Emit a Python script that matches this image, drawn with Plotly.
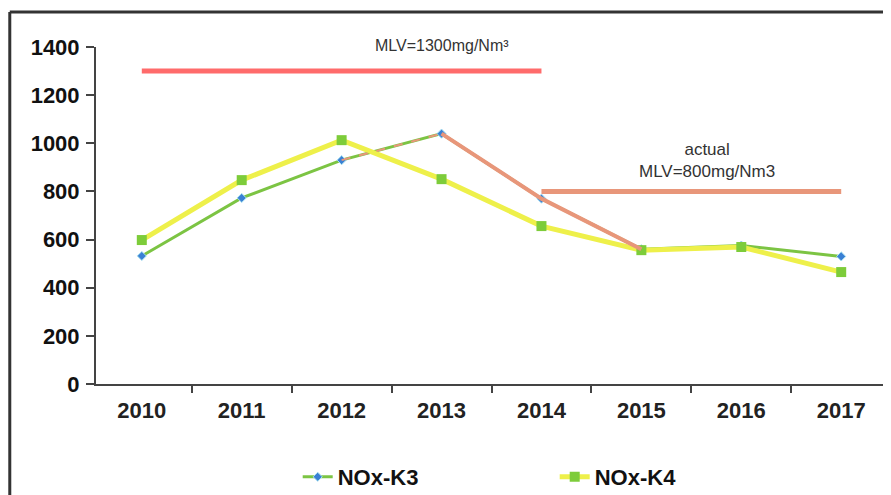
import plotly.graph_objects as go

years = ["2010", "2011", "2012", "2013", "2014", "2015", "2016", "2017"]
nox_k3 = [532, 773, 930, 1040, 770, 560, 575, 530]
nox_k4 = [598, 847, 1013, 851, 656, 556, 569, 465]
mlv_old_years = ["2010", "2014"]
mlv_old = [1300, 1300]
mlv_new_years = ["2014", "2017"]
mlv_new = [800, 800]
y_ticks = [0, 200, 400, 600, 800, 1000, 1200, 1400]

FONT = "Liberation Sans, Arial, sans-serif"

fig = go.Figure()

# MLV limit lines
fig.add_trace(go.Scatter(x=mlv_old_years, y=mlv_old, mode="lines",
                         line=dict(color="#ff6b6b", width=5),
                         showlegend=False, hoverinfo="skip"))
fig.add_trace(go.Scatter(x=mlv_new_years, y=mlv_new, mode="lines",
                         line=dict(color="#e8967a", width=5),
                         showlegend=False, hoverinfo="skip"))

# NOx-K3
fig.add_trace(go.Scatter(x=years, y=nox_k3, mode="lines+markers", name="NOx-K3",
                         line=dict(color="#7cc443", width=3),
                         marker=dict(symbol="diamond", size=7, color="#3a80d4",
                                     line=dict(color="#a8e0f0", width=1))))
# NOx-K4
fig.add_trace(go.Scatter(x=years, y=nox_k4, mode="lines+markers", name="NOx-K4",
                         line=dict(color="#eef04a", width=5),
                         marker=dict(symbol="square", size=10, color="#7dcc3a")))

# highlighted K3 segments (orange)
fig.add_trace(go.Scatter(x=years[2:4], y=nox_k3[2:4], mode="lines",
                         line=dict(color="#e8967a", width=2, dash="dash"),
                         showlegend=False, hoverinfo="skip"))
fig.add_trace(go.Scatter(x=years[3:6], y=nox_k3[3:6], mode="lines",
                         line=dict(color="#e8967a", width=4),
                         showlegend=False, hoverinfo="skip"))

fig.update_layout(
    width=883, height=487,
    margin=dict(l=88, r=4, t=39, b=111, autoexpand=False),
    paper_bgcolor="white", plot_bgcolor="white",
    font=dict(family=FONT, color="#111"),
    showlegend=True,
    legend=dict(orientation="h", x=0.255, y=-0.276, xanchor="left", yanchor="middle",
                font=dict(size=22, color="#111", weight="bold"), entrywidth=212,
                bgcolor="rgba(0,0,0,0)"),
    xaxis=dict(type="category", categoryorder="array", categoryarray=years,
               showline=True, linecolor="#444", linewidth=2,
               ticks="outside", tickson="boundaries", ticklen=7, tickcolor="#444",
               tickwidth=2, showgrid=False, zeroline=False, automargin=False,
               tickfont=dict(size=22, color="#222", weight="bold"), ticklabelstandoff=6),
    yaxis=dict(range=[0, 1400], tickvals=y_ticks, showline=True, linecolor="#444",
               linewidth=2, ticks="outside", ticklen=8, tickcolor="#444", tickwidth=2,
               showgrid=False, zeroline=False, automargin=False,
               tickfont=dict(size=22, color="#111", weight="bold"), ticklabelstandoff=2),
    annotations=[
        dict(text="MLV=1300mg/Nm³", x=0.437, y=1.005, xref="paper", yref="paper",
             xanchor="center", yanchor="middle",
             showarrow=False, font=dict(size=16, color="#333")),
        dict(text="actual<br>MLV=800mg/Nm3", x=0.772, y=0.662, xref="paper", yref="paper",
             xanchor="center", yanchor="middle",
             showarrow=False, font=dict(size=17, color="#333")),
    ],
    shapes=[
        dict(type="line", xref="paper", yref="paper", x0=-0.109, x1=1.01, y0=1.104, y1=1.104,
             line=dict(color="#333", width=3)),
        dict(type="line", xref="paper", yref="paper", x0=-0.109, x1=-0.109, y0=1.104, y1=-0.33,
             line=dict(color="#333", width=3)),
    ],
)

fig.write_html("out.html")
